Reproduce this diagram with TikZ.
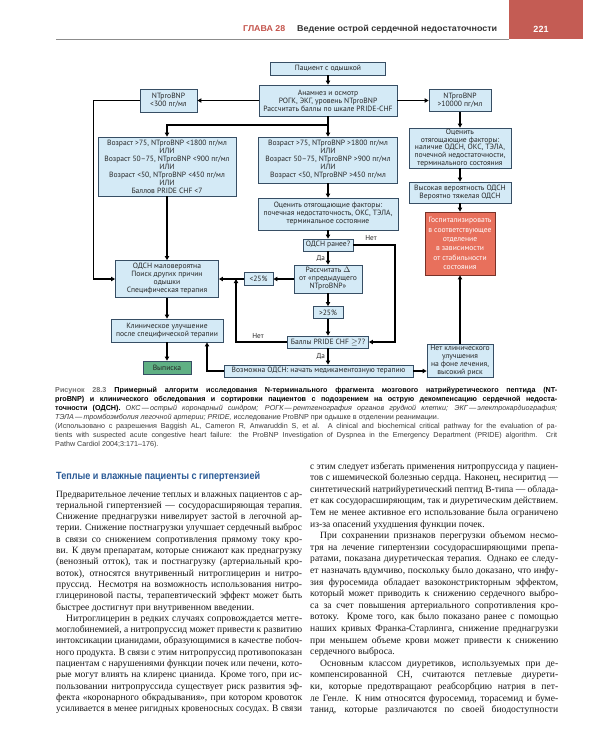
\documentclass[tikz,border=0pt]{standalone}
\usepackage{fontspec}
\usepackage{graphicx}
\setmainfont{Liberation Serif}
\newfontfamily\capfont{Liberation Sans}
\newfontfamily\fcfont{PT Sans}
\usetikzlibrary{arrows.meta,calc}

\definecolor{boxfill}{RGB}{212,234,246}
\definecolor{boxline}{RGB}{55,78,100}
\definecolor{hospfill}{RGB}{232,112,92}
\definecolor{hospline}{RGB}{120,50,40}
\definecolor{okfill}{RGB}{95,176,132}
\definecolor{hdrred}{RGB}{196,84,76}
\definecolor{hdrbox}{RGB}{196,92,84}
\definecolor{headblue}{RGB}{42,90,150}
\definecolor{bodytxt}{RGB}{22,22,22}
\definecolor{captxt}{RGB}{60,60,60}

\newlength\jw
\newsavebox\jbox
\newcommand\jline[2]{\setlength\jw{#1}\sbox\jbox{#2}\ifdim\wd\jbox>\jw\resizebox{\jw}{\height}{\usebox\jbox}\else\makebox[\jw][s]{#2}\fi}
\newcommand\bodyfont{\fontsize{9.6}{10}\selectfont}
\newcommand\capsize{\capfont\fontsize{7.2}{8}\selectfont}

\tikzset{
  fc/.style={draw=boxline, fill=boxfill, line width=0.75pt, inner sep=1pt, align=center,
    font=\fcfont\fontsize{7.6}{8}\selectfont, text=black!85},
  arr/.style={line width=1.1pt, -{Triangle[length=4pt,width=4.2pt]}},
  lbl/.style={font=\fcfont\fontsize{7.2}{8}\selectfont, inner sep=0.5pt, text=black!85},
  bodyln/.style={anchor=base west, inner sep=0pt, font=\bodyfont, text=bodytxt},
  capln/.style={anchor=base west, inner sep=0pt, font=\capsize, text=captxt},
}

\begin{document}
\begin{tikzpicture}[x=1pt,y=-1pt]
\useasboundingbox (0,0) rectangle (600,750);
\fill[white] (0,0) rectangle (600,750);

% ---------- header ----------
\fill[hdrbox] (509,0) rectangle (583,39);
\draw[line width=1.2pt, black!45] (56,39.5) -- (509,39.5);
\node[anchor=west, inner sep=0, text=hdrred, font=\capfont\bfseries\fontsize{8.5}{10}\selectfont] (hch) at (243,29) {\resizebox{42pt}{\height}{ГЛАВА 28}};
\node[anchor=west, inner sep=0, text=black!80, font=\capfont\bfseries\fontsize{8.5}{10}\selectfont] (htl) at (297,29) {\resizebox{200pt}{\height}{Ведение острой сердечной недостаточности}};
\node[inner sep=0, text=white, font=\capfont\bfseries\fontsize{9}{10}\selectfont] (hpg) at (541,29) {221};

% ---------- flowchart nodes ----------
\node[fc, minimum width=115pt, minimum height=13pt] (p1) at (328,68.5) {Пациент с одышкой};
\node[fc, minimum width=138pt, minimum height=31pt] (p2) at (328,100.5) {Анамнез и осмотр\\РОГК, ЭКГ, уровень NTproBNP\\Рассчитать баллы по шкале PRIDE-CHF};
\node[fc, minimum width=57pt, minimum height=23pt] (lo) at (168.5,100.5) {NTproBNP\\<300 пг/мл};
\node[fc, minimum width=62pt, minimum height=22pt] (hi) at (460,100.5) {NTproBNP\\>10000 пг/мл};
\node[fc, minimum width=138pt, minimum height=59pt] (ll) at (167,166.5) {Возраст >75, NTproBNP <1800 пг/мл\\ИЛИ\\Возраст 50–75, NTproBNP <900 пг/мл\\ИЛИ\\Возраст <50, NTproBNP <450 пг/мл\\ИЛИ\\Баллов PRIDE CHF <7};
\node[fc, minimum width=139pt, minimum height=46pt] (cc) at (328,160) {Возраст >75, NTproBNP >1800 пг/мл\\ИЛИ\\Возраст 50–75, NTproBNP >900 пг/мл\\ИЛИ\\Возраст <50, NTproBNP >450 пг/мл};
\node[fc, minimum width=102pt, minimum height=40pt, font=\fcfont\fontsize{7.6}{7.6}\selectfont] (rr) at (460,148) {Оценить\\отягощающие факторы:\\наличие ОДСН, ОКС, ТЭЛА,\\почечной недостаточности,\\терминального состояния};
\node[fc, minimum width=102pt, minimum height=21pt] (rh) at (460,192.5) {Высокая вероятность ОДСН\\Вероятно тяжелая ОДСН};
\node[fc, fill=hospfill, draw=hospline, text=white, minimum width=70pt, minimum height=63pt,
  font=\fcfont\fontsize{7.6}{9.4}\selectfont] (hosp) at (460,243.5) {Госпитализировать\\в соответствующее\\отделение\\в зависимости\\от стабильности\\состояния};
\node[fc, minimum width=140pt, minimum height=32pt] (cf) at (328,214) {Оценить отягощающие факторы:\\почечная недостаточность, ОКС, ТЭЛА,\\терминальное состояние};
\node[fc, minimum width=50pt, minimum height=12pt] (q1) at (328,245) {ОДСН ранее?};
\node[fc, minimum width=68pt, minimum height=28pt] (calc) at (328,279) {Рассчитать $\Delta$\\от «предыдущего\\NTproBNP»};
\node[fc, minimum width=29pt, minimum height=13pt] (lt) at (258.5,279) {<25\%};
\node[fc, minimum width=30pt, minimum height=12pt] (gt) at (328,312.5) {>25\%};
\node[fc, minimum width=81pt, minimum height=12pt] (pr) at (328,342) {Баллы PRIDE CHF $\geq$7?};
\node[fc, minimum width=189pt, minimum height=12pt] (pos) at (318.5,371) {Возможна ОДСН: начать медикаментозную терапию};
\node[fc, minimum width=66pt, minimum height=32pt] (nocl) at (460,361) {Нет клинического\\улучшения\\на фоне лечения,\\высокий риск};
\node[fc, minimum width=103pt, minimum height=37pt] (unl) at (167,279) {ОДСН маловероятна\\Поиск других причин\\одышки\\Специфическая терапия};
\node[fc, minimum width=112pt, minimum height=23pt] (imp) at (167,330.5) {Клиническое улучшение\\после специфической терапии};
\node[fc, fill=okfill, minimum width=48pt, minimum height=13pt] (dis) at (167,367.5) {Выписка};

% ---------- connectors ----------
\coordinate (br) at (328,125);
\coordinate (rj) at (395,342);
\coordinate (lj) at (236,279);
\draw[arr] (p1.south) -- (p2.north);
\draw[arr] (p2.west) -- (lo.east);
\draw[arr] (p2.east) -- (hi.west);
\draw[arr] (lo.west) -- ++(-46,0) |- (unl.west);
\draw[arr] (p2.south) -- (cc.north);
\draw[arr] (br) -| (ll.north);
\draw[arr] (hi.south) -- (rr.north);
\draw[arr] (rr.south) -- (rh.north);
\draw[arr] (rh.south) -- (hosp.north);
\draw[arr] (ll.south) -- (unl.north);
\draw[arr] (cc.south) -- (cf.north);
\draw[arr] (cf.south) -- (q1.north);
\draw[arr] (q1.south) -- node[lbl, left=2pt] (da1) {Да} (calc.north);
\draw[arr] (q1.east) -| (rj) -- (pr.east);
\node[lbl] (net1) at (371,238) {Нет};
\draw[arr] (calc.west) -- (lt.east);
\draw[arr] (lt.west) -- (unl.east);
\draw[arr] (pr.west) -| (lj);
\node[lbl] (net2) at (258,336.5) {Нет};
\draw[arr] (calc.south) -- (gt.north);
\draw[arr] (gt.south) -- (pr.north);
\draw[arr] (pr.south) -- node[lbl, left=2pt] (da2) {Да} (pr.south |- pos.north);
\draw[arr] (pos.east) -- (pos.east -| nocl.west);
\draw[arr] (nocl.north) -- (hosp.south);
\draw[arr] (pos.west) -| ([xshift=40pt]imp.south);
\draw[arr] (unl.south) -- (imp.north);
\draw[arr] (imp.south) -- (dis.north);

% ---------- caption ----------
\node[capln] (c1) at (55,392) {\jline{502pt}{{\color{black!55}\bfseries Рисунок 28.3}\hspace*{8pt}{\color{black}\bfseries Примерный алгоритм исследования N-терминального фрагмента мозгового натрийуретического пептида (NT-}}};
\node[capln] (c2) at (55,401) {\jline{502pt}{{\color{black}\bfseries proBNP) и клинического обследования и сортировки пациентов с подозрением на острую декомпенсацию сердечной недоста-}}};
\node[capln] (c3) at (55,410) {\jline{502pt}{{\color{black}\bfseries точности (ОДСН).} \itshape ОКС\,—\,острый коронарный синдром; РОГК\,—\,рентгенография органов грудной клетки; ЭКГ\,—\,электрокардиография;}};
\node[capln] (c4) at (55,419) {\itshape ТЭЛА\,—\,тромбоэмболия легочной артерии; PRIDE,\upshape{} исследование ProBNP при одышке в отделении реанимации.};
\node[capln] (c5) at (55,428) {\jline{502pt}{(Использовано с разрешения Baggish AL, Cameron R, Anwaruddin S, et al. A clinical and biochemical critical pathway for the evaluation of pa-}};
\node[capln] (c6) at (55,437) {\jline{502pt}{tients with suspected acute congestive heart failure: the ProBNP Investigation of Dyspnea in the Emergency Department (PRIDE) algorithm. Crit}};
\node[capln] (c7) at (55,446) {Pathw Cardiol 2004;3:171–176).};

% ---------- left column ----------
\node[anchor=west, inner sep=0, text=headblue, font=\capfont\bfseries\fontsize{10.5}{12}\selectfont] (head) at (56,477) {\resizebox{204pt}{\height}{Теплые и влажные пациенты с гипертензией}};
\node[bodyln] (L1) at (56,497) {\jline{246pt}{Предварительное лечение теплых и влажных пациентов с ар-}};
\node[bodyln] (L2) at (56,508.3) {\jline{246pt}{териальной гипертензией — сосудорасширяющая терапия.}};
\node[bodyln] (L3) at (56,519.6) {\jline{246pt}{Снижение преднагрузки нивелирует застой в легочной ар-}};
\node[bodyln] (L4) at (56,530.9) {\jline{246pt}{терии. Снижение постнагрузки улучшает сердечный выброс}};
\node[bodyln] (L5) at (56,542.2) {\jline{246pt}{в связи со снижением сопротивления прямому току кро-}};
\node[bodyln] (L6) at (56,553.5) {\jline{246pt}{ви. К двум препаратам, которые снижают как преднагрузку}};
\node[bodyln] (L7) at (56,564.8) {\jline{246pt}{(венозный отток), так и постнагрузку (артериальный кро-}};
\node[bodyln] (L8) at (56,576.1) {\jline{246pt}{воток), относятся внутривенный нитроглицерин и нитро-}};
\node[bodyln] (L9) at (56,587.4) {\jline{246pt}{пруссид. Несмотря на возможность использования нитро-}};
\node[bodyln] (L10) at (56,598.7) {\jline{246pt}{глицериновой пасты, терапевтический эффект может быть}};
\node[bodyln] (L11) at (56,610) {быстрее достигнут при внутривенном введении.};
\node[bodyln] (L12) at (56,621.3) {\jline{246pt}{\hspace*{10pt}Нитроглицерин в редких случаях сопровождается метге-}};
\node[bodyln] (L13) at (56,632.6) {\jline{246pt}{моглобинемией, а нитропруссид может привести к развитию}};
\node[bodyln] (L14) at (56,643.9) {\jline{246pt}{интоксикации цианидами, образующимися в качестве побоч-}};
\node[bodyln] (L15) at (56,655.2) {\jline{246pt}{ного продукта. В связи с этим нитропруссид противопоказан}};
\node[bodyln] (L16) at (56,666.5) {\jline{246pt}{пациентам с нарушениями функции почек или печени, кото-}};
\node[bodyln] (L17) at (56,677.8) {\jline{246pt}{рые могут влиять на клиренс цианида. Кроме того, при ис-}};
\node[bodyln] (L18) at (56,689.1) {\jline{246pt}{пользовании нитропруссида существует риск развития эф-}};
\node[bodyln] (L19) at (56,700.4) {\jline{246pt}{фекта «коронарного обкрадывания», при котором кровоток}};
\node[bodyln] (L20) at (56,711.7) {\jline{246pt}{усиливается в менее ригидных кровеносных сосудах. В связи}};

% ---------- right column ----------
\node[bodyln] (R1) at (310,469) {\jline{248pt}{с этим следует избегать применения нитропруссида у пациен-}};
\node[bodyln] (R2) at (310,480.6) {\jline{248pt}{тов с ишемической болезнью сердца. Наконец, несиритид —}};
\node[bodyln] (R3) at (310,492.2) {\jline{248pt}{синтетический натрийуретический пептид В-типа — облада-}};
\node[bodyln] (R4) at (310,503.8) {\jline{248pt}{ет как сосудорасширяющим, так и диуретическим действием.}};
\node[bodyln] (R5) at (310,515.4) {\jline{248pt}{Тем не менее активное его использование была ограничено}};
\node[bodyln] (R6) at (310,527) {из-за опасений ухудшения функции почек.};
\node[bodyln] (R7) at (310,538.6) {\jline{248pt}{\hspace*{10pt}При сохранении признаков перегрузки объемом несмо-}};
\node[bodyln] (R8) at (310,550.2) {\jline{248pt}{тря на лечение гипертензии сосудорасширяющими препа-}};
\node[bodyln] (R9) at (310,561.8) {\jline{248pt}{ратами, показана диуретическая терапия. Однако ее следу-}};
\node[bodyln] (R10) at (310,573.4) {\jline{248pt}{ет назначать вдумчиво, поскольку было доказано, что инфу-}};
\node[bodyln] (R11) at (310,585) {\jline{248pt}{зия фуросемида обладает вазоконстрикторным эффектом,}};
\node[bodyln] (R12) at (310,596.6) {\jline{248pt}{который может приводить к снижению сердечного выбро-}};
\node[bodyln] (R13) at (310,608.2) {\jline{248pt}{са за счет повышения артериального сопротивления кро-}};
\node[bodyln] (R14) at (310,619.8) {\jline{248pt}{вотоку. Кроме того, как было показано ранее с помощью}};
\node[bodyln] (R15) at (310,631.4) {\jline{248pt}{наших кривых Франка-Старлинга, снижение преднагрузки}};
\node[bodyln] (R16) at (310,643) {\jline{248pt}{при меньшем объеме крови может привести к снижению}};
\node[bodyln] (R17) at (310,654.6) {сердечного выброса.};
\node[bodyln] (R18) at (310,666.2) {\jline{248pt}{\hspace*{10pt}Основным классом диуретиков, используемых при де-}};
\node[bodyln] (R19) at (310,677.8) {\jline{248pt}{компенсированной СН, считаются петлевые диурети-}};
\node[bodyln] (R20) at (310,689.4) {\jline{248pt}{ки, которые предотвращают реабсорбцию натрия в пет-}};
\node[bodyln] (R21) at (310,701) {\jline{248pt}{ле Генле. К ним относятся фуросемид, торасемид и буме-}};
\node[bodyln] (R22) at (310,712.6) {\jline{248pt}{танид, которые различаются по своей биодоступности}};
\end{tikzpicture}
\end{document}
